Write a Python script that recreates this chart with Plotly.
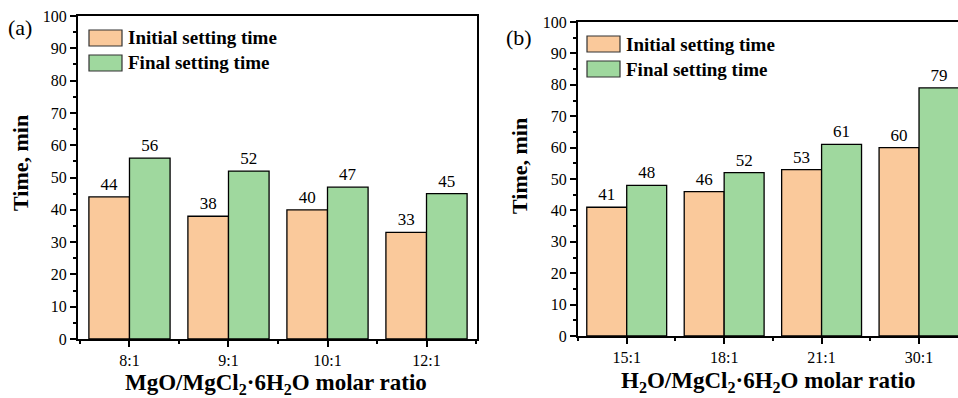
import plotly.graph_objects as go

cats_a = ["8:1", "9:1", "10:1", "12:1"]
init_a = [44, 38, 40, 33]
final_a = [56, 52, 47, 45]

cats_b = ["15:1", "18:1", "21:1", "30:1"]
init_b = [41, 46, 53, 60]
final_b = [48, 52, 61, 79]

ORANGE = "#FAC99B"
GREEN = "#9FD89E"
FONT = "Liberation Serif"

fig = go.Figure()
pos = list(range(4))

def add_bars(x_ax, y_ax, init, final):
    for vals, col, name in [(init, ORANGE, "Initial setting time"), (final, GREEN, "Final setting time")]:
        fig.add_trace(go.Bar(
            x=pos, y=vals, name=name, xaxis=x_ax, yaxis=y_ax,
            marker=dict(color=col, line=dict(color="black", width=1.3)),
            text=vals, textposition="outside", cliponaxis=False,
            textfont=dict(family=FONT, size=17, color="black"),
            showlegend=False,
        ))

add_bars("x", "y", init_a, final_a)
add_bars("x2", "y2", init_b, final_b)

common_x = dict(showline=True, linecolor="black", linewidth=2, ticks="outside",
                ticklen=6, tickwidth=1.5, tickcolor="black", showgrid=False, zeroline=False,
                tickvals=pos, tickfont=dict(family=FONT, size=16, color="black"),
                minor=dict(ticks="outside", ticklen=3, tickwidth=1.5, tickcolor="black",
                           tick0=0.5, dtick=1, showgrid=False))
common_y = dict(showline=True, linecolor="black", linewidth=2, ticks="outside",
                ticklen=6, tickwidth=1.5, tickcolor="black", showgrid=False, zeroline=False,
                range=[0, 100], dtick=10, tickfont=dict(family=FONT, size=16, color="black"),
                minor=dict(ticks="outside", ticklen=3, tickwidth=1.5, tickcolor="black",
                           dtick=5, showgrid=False))

fig.update_layout(
    width=958, height=398, margin=dict(l=0, r=0, t=0, b=0, autoexpand=False),
    plot_bgcolor="white", paper_bgcolor="white",
    barmode="group", bargap=0.18, bargroupgap=0,
    xaxis=dict(common_x, domain=[78/958, 477/958], range=[-0.52, 3.51], ticktext=cats_a,
               mirror=True, anchor="y"),
    yaxis=dict(common_y, domain=[(398-339)/398, (398-16)/398], mirror=True, anchor="x"),
    xaxis2=dict(common_x, domain=[578/958, 1.0], range=[-0.5, 3.4], ticktext=cats_b,
                mirror=True, anchor="y2"),
    yaxis2=dict(common_y, domain=[(398-336)/398, (398-22)/398], mirror=False, anchor="x2"),
)

ann = []
def A(x, y, text, size, bold=False, angle=0, xanchor="center"):
    ann.append(dict(x=x/958, y=1-y/398, xref="paper", yref="paper", text=(f"<b>{text}</b>" if bold else text),
                    showarrow=False, textangle=angle, xanchor=xanchor, yanchor="middle",
                    font=dict(family=FONT, size=size, color="black")))

A(20, 27, "(a)", 22)
A(519, 37, "(b)", 22)
A(20, 163, "Time, min", 22, bold=True, angle=-90)
A(520, 166, "Time, min", 22, bold=True, angle=-90)
A(276, 384, "MgO/MgCl<sub>2</sub>·6H<sub>2</sub>O molar ratio", 23, bold=True)
A(768, 382, "H<sub>2</sub>O/MgCl<sub>2</sub>·6H<sub>2</sub>O molar ratio", 23, bold=True)

shapes = []
def legend(x0, y0, names_cols):
    for i, (nm, col) in enumerate(names_cols):
        top = y0 + i * 25
        shapes.append(dict(type="rect", xref="paper", yref="paper",
                           x0=x0/958, x1=(x0+33)/958, y0=1-(top+16)/398, y1=1-top/398,
                           fillcolor=col, line=dict(color="#333333", width=1.2)))
        A(x0 + 37, top + 8, nm, 19, bold=True, xanchor="left")

legend(89, 30, [("Initial setting time", ORANGE), ("Final setting time", GREEN)])
legend(587, 36, [("Initial setting time", ORANGE), ("Final setting time", GREEN)])

fig.update_layout(annotations=ann, shapes=shapes)
fig.write_html("out.html", config={"displayModeBar": False},
               post_script="document.body.style.margin='0';document.body.style.overflow='hidden';")
